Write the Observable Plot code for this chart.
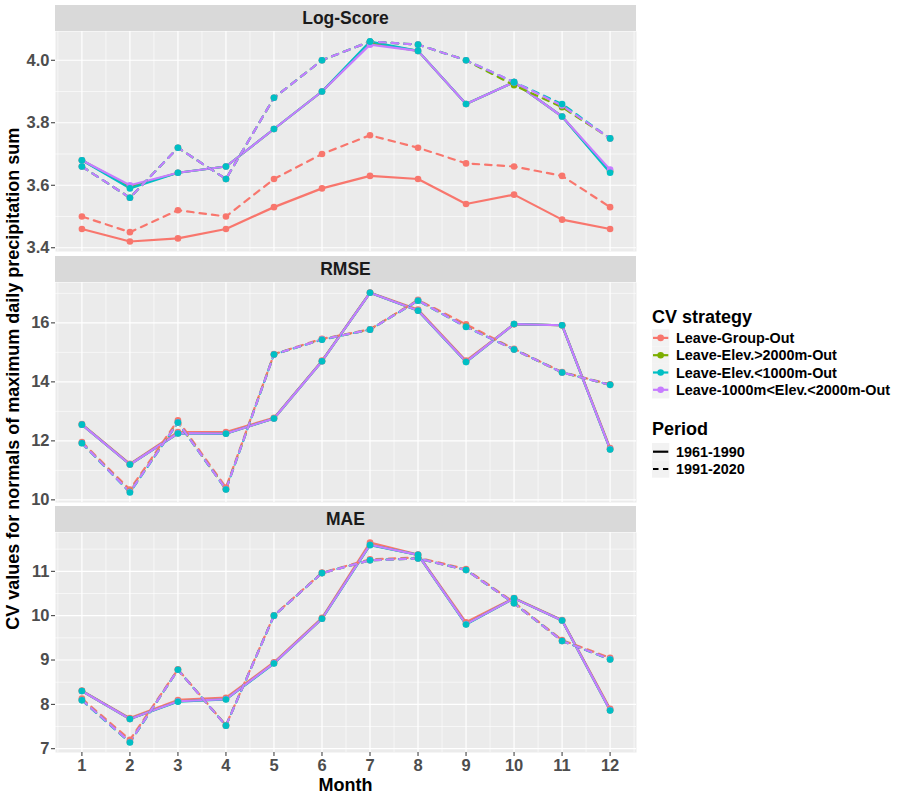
<!DOCTYPE html>
<html><head><meta charset="utf-8">
<script src="https://cdn.jsdelivr.net/npm/d3@7"></script>
<script src="https://cdn.jsdelivr.net/npm/@observablehq/plot@0.6"></script>
<style>
body{margin:0;background:#fff;font-family:"Liberation Sans",Arial,Helvetica,sans-serif;}
#root{position:relative;width:900px;height:800px;overflow:hidden;}
.strip{position:absolute;left:55px;width:581px;height:26px;background:#d9d9d9;color:#1a1a1a;font-weight:bold;font-size:17.5px;display:flex;align-items:center;justify-content:center;}
.panel{position:absolute;left:0;}
#overlay{position:absolute;left:0;top:0;pointer-events:none;}
</style></head><body><div id="root"></div>
<script>
const months = [1,2,3,4,5,6,7,8,9,10,11,12];
const strategies = ["Leave-Group-Out","Leave-Elev.>2000m-Out","Leave-Elev.<1000m-Out","Leave-1000m<Elev.<2000m-Out"];
const strategyColors = ["#F8766D","#7CAE00","#00BFC4","#C77CFF"];
const periods = ["1961-1990","1991-2020"];
const metrics = ["Log-Score","RMSE","MAE"];

// Log-Score
const logGroup6190 = [3.46, 3.42, 3.43, 3.46, 3.53, 3.59, 3.63, 3.62, 3.54, 3.57, 3.49, 3.46];
const logGroup9120 = [3.50, 3.45, 3.52, 3.50, 3.62, 3.70, 3.76, 3.72, 3.67, 3.66, 3.63, 3.53];
const logHigh6190  = [3.68, 3.595, 3.64, 3.66, 3.78, 3.90, 4.055, 4.03, 3.86, 3.93, 3.82, 3.645];
const logHigh9120  = [3.66, 3.56, 3.72, 3.62, 3.88, 4.00, 4.06, 4.05, 4.00, 3.92, 3.85, 3.75];
const logLow6190   = [3.68, 3.59, 3.64, 3.66, 3.78, 3.90, 4.06, 4.03, 3.86, 3.93, 3.82, 3.64];
const logLow9120   = [3.66, 3.56, 3.72, 3.62, 3.88, 4.00, 4.06, 4.05, 4.00, 3.93, 3.86, 3.75];
const logMid6190   = [3.68, 3.60, 3.64, 3.66, 3.78, 3.90, 4.05, 4.03, 3.86, 3.93, 3.82, 3.65];
const logMid9120   = [3.66, 3.56, 3.72, 3.62, 3.88, 4.00, 4.06, 4.05, 4.00, 3.93, 3.855, 3.75];
// RMSE
const rmseGroup6190 = [12.57, 11.22, 12.30, 12.30, 12.78, 14.72, 17.03, 16.45, 14.72, 15.95, 15.92, 11.76];
const rmseGroup9120 = [11.96, 10.35, 12.70, 10.42, 14.94, 15.46, 15.78, 16.78, 15.95, 15.12, 14.33, 13.92];
const rmseHigh6190  = [12.55, 11.20, 12.26, 12.25, 12.76, 14.70, 17.02, 16.42, 14.68, 15.96, 15.92, 11.72];
const rmseHigh9120  = [11.93, 10.28, 12.63, 10.36, 14.93, 15.44, 15.77, 16.76, 15.88, 15.10, 14.32, 13.90];
const rmseLow6190   = [12.55, 11.20, 12.25, 12.24, 12.76, 14.70, 17.02, 16.41, 14.67, 15.96, 15.92, 11.71];
const rmseLow9120   = [11.92, 10.25, 12.62, 10.35, 14.93, 15.43, 15.77, 16.75, 15.86, 15.10, 14.32, 13.90];
const rmseMid6190   = [12.55, 11.20, 12.26, 12.25, 12.76, 14.70, 17.02, 16.42, 14.68, 15.96, 15.92, 11.72];
const rmseMid9120   = [11.93, 10.27, 12.63, 10.36, 14.93, 15.44, 15.77, 16.76, 15.87, 15.10, 14.32, 13.90];
// MAE
const maeGroup6190 = [8.31, 7.69, 8.10, 8.15, 8.95, 9.95, 11.65, 11.38, 9.85, 10.40, 9.90, 7.90];
const maeGroup9120 = [8.13, 7.20, 8.79, 7.53, 10.01, 10.97, 11.27, 11.31, 11.05, 10.30, 9.45, 9.05];
const maeHigh6190  = [8.30, 7.67, 8.07, 8.12, 8.93, 9.93, 11.60, 11.37, 9.81, 10.39, 9.89, 7.87];
const maeHigh9120  = [8.10, 7.15, 8.78, 7.52, 10.00, 10.96, 11.25, 11.29, 11.03, 10.28, 9.43, 9.02];
const maeLow6190   = [8.30, 7.67, 8.06, 8.11, 8.92, 9.93, 11.59, 11.37, 9.80, 10.39, 9.89, 7.86];
const maeLow9120   = [8.09, 7.14, 8.78, 7.52, 10.00, 10.96, 11.25, 11.29, 11.03, 10.28, 9.43, 9.01];
const maeMid6190   = [8.30, 7.67, 8.07, 8.12, 8.93, 9.93, 11.60, 11.37, 9.81, 10.39, 9.89, 7.87];
const maeMid9120   = [8.10, 7.15, 8.78, 7.52, 10.00, 10.96, 11.25, 11.29, 11.03, 10.28, 9.43, 9.02];

// tick labels
const logTicks = [3.4, 3.6, 3.8, 4.0];
const rmseTicks = [10, 12, 14, 16];
const maeTicks = [7, 8, 9, 10, 11];

const seriesTable = [
  ["Log-Score", 0, 0, logGroup6190], ["Log-Score", 0, 1, logGroup9120],
  ["Log-Score", 1, 0, logHigh6190],  ["Log-Score", 1, 1, logHigh9120],
  ["Log-Score", 2, 0, logLow6190],   ["Log-Score", 2, 1, logLow9120],
  ["Log-Score", 3, 0, logMid6190],   ["Log-Score", 3, 1, logMid9120],
  ["RMSE", 0, 0, rmseGroup6190], ["RMSE", 0, 1, rmseGroup9120],
  ["RMSE", 1, 0, rmseHigh6190],  ["RMSE", 1, 1, rmseHigh9120],
  ["RMSE", 2, 0, rmseLow6190],   ["RMSE", 2, 1, rmseLow9120],
  ["RMSE", 3, 0, rmseMid6190],   ["RMSE", 3, 1, rmseMid9120],
  ["MAE", 0, 0, maeGroup6190], ["MAE", 0, 1, maeGroup9120],
  ["MAE", 1, 0, maeHigh6190],  ["MAE", 1, 1, maeHigh9120],
  ["MAE", 2, 0, maeLow6190],   ["MAE", 2, 1, maeLow9120],
  ["MAE", 3, 0, maeMid6190],   ["MAE", 3, 1, maeMid9120]
];
const data = seriesTable.flatMap(([metric, si, pi, vals]) =>
  vals.map((v, i) => ({metric, strategy: strategies[si], si, period: periods[pi], month: months[i], value: v})));

const root = document.getElementById("root");
const FONT = '"Liberation Sans", Arial, Helvetica, sans-serif';
const xPad = (d3.max(months) - d3.min(months)) * 0.05;
const dotOrder = [0, 1, 3, 2];

function panel(metric, ticks, fmt, stripTop, xAxis) {
  const rows = data.filter(d => d.metric === metric);
  const ext = d3.extent(rows, d => d.value);
  const pad = (ext[1] - ext[0]) * 0.05;
  const dom = [ext[0] - pad, ext[1] + pad];
  const step = ticks[1] - ticks[0];
  const minor = [ticks[0] - step / 2, ...ticks.map(t => t + step / 2)].filter(t => t >= dom[0] && t <= dom[1]);
  const minorX = [months[0] - 0.5, ...months.map(m => m + 0.5)];
  const dots = d3.sort(rows, d => dotOrder.indexOf(d.si));
  const strip = document.createElement("div");
  strip.className = "strip";
  strip.style.top = stripTop + "px";
  strip.textContent = metric;
  root.appendChild(strip);
  const plot = Plot.plot({
    width: 640,
    height: 220 + (xAxis ? 40 : 0),
    marginLeft: 55, marginRight: 4, marginTop: 0, marginBottom: xAxis ? 40 : 0,
    style: {fontFamily: FONT, background: "transparent", overflow: "visible"},
    x: {domain: [d3.min(months) - xPad, d3.max(months) + xPad], axis: xAxis ? undefined : null},
    y: {domain: dom},
    color: {domain: strategies, range: strategyColors},
    marks: [
      Plot.frame({fill: "#ebebeb", stroke: "none"}),
      Plot.ruleY(minor, {stroke: "#fff", strokeWidth: 0.6}),
      Plot.ruleX(minorX, {stroke: "#fff", strokeWidth: 0.6}),
      Plot.ruleY(ticks, {stroke: "#fff", strokeWidth: 1.2}),
      Plot.ruleX(months, {stroke: "#fff", strokeWidth: 1.2}),
      Plot.line(rows.filter(d => d.period === periods[0]), {x: "month", y: "value", z: "strategy", stroke: "strategy", strokeWidth: 2.2}),
      Plot.line(rows.filter(d => d.period === periods[1]), {x: "month", y: "value", z: "strategy", stroke: "strategy", strokeWidth: 2.2, strokeDasharray: "6.5,6"}),
      Plot.dot(dots, {x: "month", y: "value", fill: "strategy", r: 3.3}),
      Plot.axisY(ticks, {tickSize: 4, tickPadding: 2, tickFormat: fmt, fontSize: 16.5, fontWeight: "bold", fill: "#4d4d4d", stroke: "#333", label: null}),
      xAxis ? Plot.axisX(months, {tickSize: 4, tickPadding: 3, fontSize: 16.5, fontWeight: "bold", fill: "#4d4d4d", stroke: "#333", label: null}) : null
    ]
  });
  plot.classList.add("panel");
  plot.style.top = (stripTop + 26) + "px";
  root.appendChild(plot);
}

panel(metrics[0], logTicks, d3.format(".1f"), 5, false);
panel(metrics[1], rmseTicks, d3.format("d"), 256, false);
panel(metrics[2], maeTicks, d3.format("d"), 506, true);

// titles and legend
const svg = d3.select(root).append("svg").attr("id", "overlay").attr("width", 900).attr("height", 800)
  .style("font-family", FONT);
svg.append("text").attr("x", 345.5).attr("y", 791).attr("text-anchor", "middle")
  .attr("font-size", 18).attr("font-weight", "bold").text("Month");
svg.append("text").attr("transform", "translate(19,378.8) rotate(-90)").attr("text-anchor", "middle")
  .attr("font-size", 18).attr("font-weight", "bold").text("CV values for normals of maximum daily precipitation sum");

const lg = svg.append("g").attr("transform", "translate(652,0)");
lg.append("text").attr("x", 0).attr("y", 323.3).attr("font-size", 18).attr("font-weight", "bold").text("CV strategy");
strategies.forEach((s, i) => {
  const cy = 337.9 + i * 17.3;
  const g = lg.append("g");
  g.append("rect").attr("x", 0).attr("y", cy - 8.65).attr("width", 17.3).attr("height", 17.3).attr("fill", "#f2f2f2");
  g.append("line").attr("x1", 1).attr("x2", 16.3).attr("y1", cy).attr("y2", cy).attr("stroke", strategyColors[i]).attr("stroke-width", 2.2);
  g.append("circle").attr("cx", 8.65).attr("cy", cy).attr("r", 3.3).attr("fill", strategyColors[i]);
  g.append("text").attr("x", 24).attr("y", cy + 5.2).attr("font-size", 14.4).attr("font-weight", "bold").text(s);
});
lg.append("text").attr("x", 0).attr("y", 435).attr("font-size", 18).attr("font-weight", "bold").text("Period");
periods.forEach((p, i) => {
  const cy = 451.7 + i * 17.3;
  const g = lg.append("g");
  g.append("rect").attr("x", 0).attr("y", cy - 8.65).attr("width", 17.3).attr("height", 17.3).attr("fill", "#f2f2f2");
  g.append("line").attr("x1", 1).attr("x2", 16.3).attr("y1", cy).attr("y2", cy).attr("stroke", "#000").attr("stroke-width", 2.2)
    .attr("stroke-dasharray", i === 0 ? null : "5.5,4.5");
  g.append("text").attr("x", 24).attr("y", cy + 5.2).attr("font-size", 14.4).attr("font-weight", "bold").text(p);
});
</script></body></html>
